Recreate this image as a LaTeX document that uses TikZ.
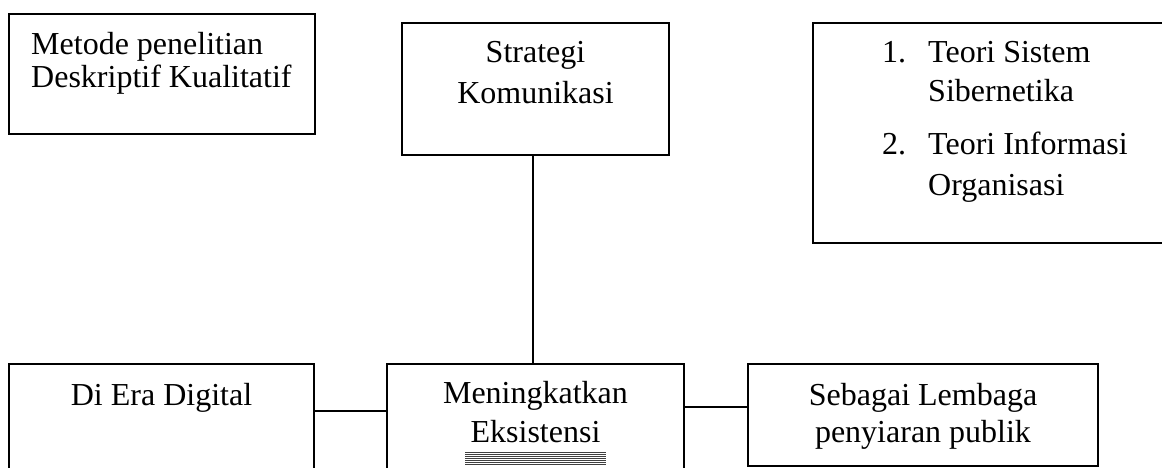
\documentclass[tikz,border=0pt]{standalone}
\usepackage{fontspec}
\setmainfont{Liberation Serif}
\begin{document}
\begin{tikzpicture}[x=1pt,y=-1pt,
  box/.style={draw,line width=1.6pt,rectangle,inner sep=0pt},
  txt/.style={inner sep=0pt,anchor=base},
  conn/.style={line width=2pt}]
\useasboundingbox[fill=white] (0,0) rectangle (1162,468);
% boxes
\node[box,minimum width=306pt,minimum height=120pt] (metode) at (162,74) {};
\node[box,minimum width=267pt,minimum height=132pt] (strategi) at (535.5,89) {};
\node[box,minimum width=357pt,minimum height=220pt] (teori) at (991.5,133) {};
\node[box,minimum width=305pt,minimum height=108pt] (digital) at (161.5,418) {};
\node[box,minimum width=297pt,minimum height=108pt] (mening) at (535.5,418) {};
\node[box,minimum width=350pt,minimum height=102pt] (sebagai) at (923,415) {};
% texts
\node[txt,anchor=base west] (tmetode) at (31,55) {\fontsize{32}{33}\selectfont\setlength\tabcolsep{0pt}\begin{tabular}[t]{l}Metode penelitian\\Deskriptif Kualitatif\end{tabular}};
\node[txt] (tstrategi) at (535.5,63) {\fontsize{32}{41}\selectfont\setlength\tabcolsep{0pt}\begin{tabular}[t]{c}Strategi\\Komunikasi\end{tabular}};
\node[txt,anchor=base west] (n1) at (882,63) {\fontsize{32}{39}\selectfont 1.};
\node[txt,anchor=base west] (i1) at (928,63) {\fontsize{32}{39}\selectfont\setlength\tabcolsep{0pt}\begin{tabular}[t]{l}Teori Sistem\\Sibernetika\end{tabular}};
\node[txt,anchor=base west] (n2) at (882,155) {\fontsize{32}{40}\selectfont 2.};
\node[txt,anchor=base west] (i2) at (928,155) {\fontsize{32}{40}\selectfont\setlength\tabcolsep{0pt}\begin{tabular}[t]{l}Teori Informasi\\Organisasi\end{tabular}};
\node[txt] (tdigital) at (161.5,405) {\fontsize{32}{39}\selectfont Di Era Digital};
\node[txt] (tmening) at (535.5,403) {\fontsize{32}{39}\selectfont\setlength\tabcolsep{0pt}\begin{tabular}[t]{c}Meningkatkan\\Eksistensi\end{tabular}};
\node[txt] (tsebagai) at (923,405) {\fontsize{32}{37}\selectfont\setlength\tabcolsep{0pt}\begin{tabular}[t]{c}Sebagai Lembaga\\penyiaran publik\end{tabular}};
% underline stack
\foreach \k in {0,...,6}{
  \draw[line width=0.9pt,black!75] (465,452+2*\k) -- (606,452+2*\k);
}
% connectors
\draw[conn] ([xshift=-2.5pt]strategi.south) -- ([xshift=-2.5pt]mening.north);
\draw[conn] ([yshift=7pt]digital.east) -- ([yshift=7pt]mening.west);
\draw[conn] ([yshift=11pt]mening.east) -- ([yshift=8pt]sebagai.west);
\end{tikzpicture}
\end{document}
